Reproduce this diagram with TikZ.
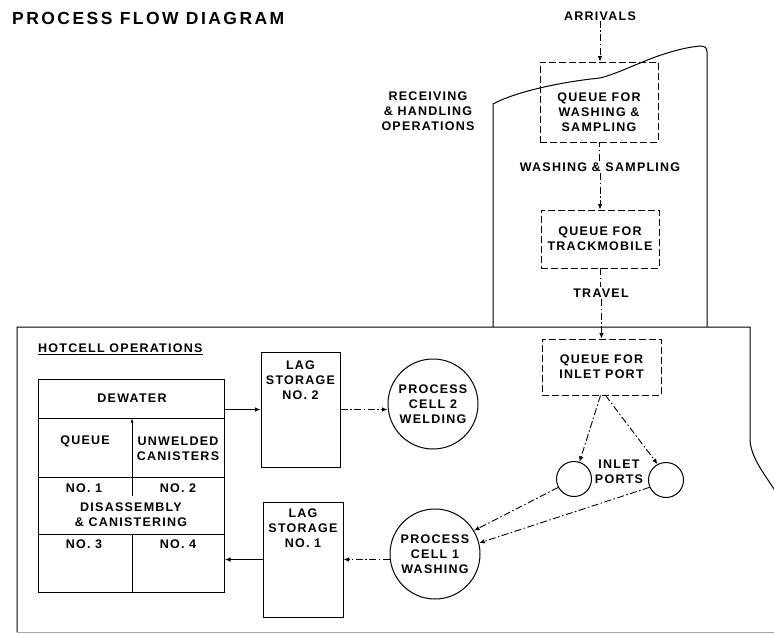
\documentclass[tikz,border=0pt]{standalone}
\usepackage{fontspec}
\setmainfont{Liberation Sans}[LetterSpace=10]
\newfontfamily\titlefont{Liberation Sans}[LetterSpace=14]
\usetikzlibrary{arrows.meta,calc}
\begin{document}
\begin{tikzpicture}[x=1pt,y=-1pt,
  every node/.style={font=\bfseries\fontsize{12.5}{15}\selectfont, inner sep=0pt, align=center},
  dbox/.style={draw, dash pattern=on 7pt off 3pt, line width=0.9pt},
  sbox/.style={draw, line width=1pt},
  cell/.style={draw, circle, line width=1pt, minimum size=90pt},
  port/.style={draw, circle, line width=1pt, minimum size=35pt},
  flow/.style={line width=0.9pt, dash pattern=on 7pt off 2.5pt on 1.5pt off 2.5pt, -{Latex[length=5.5pt,width=4.5pt]}},
  solidarrow/.style={line width=1pt, -{Latex[length=5.5pt,width=4.5pt]}},
  outline/.style={line width=1pt},
  gap/.style={fill=white, inner sep=1.5pt}]
\fill[white] (0,0) rectangle (774,634);
\useasboundingbox (0,0) rectangle (774,634);

% title
\node[font=\titlefont\bfseries\fontsize{17.5}{20}\selectfont, anchor=base west] (title) at (12,25) {PROCESS FLOW DIAGRAM};

% receiving outline
\draw[outline] (493,327) -- (493,104) .. controls (515,92) and (560,82) .. (600,78)
  .. controls (625,72) and (660,50) .. (700,46) .. controls (705,46) and (707,48) .. (707,52) -- (707,327);
% hotcell outline
\draw[outline] (776,492) .. controls (765,475) and (751,458) .. (750,440) -- (750,327) -- (17,327) -- (17,632);
\draw[black!35, line width=0.8pt] (17,632) -- (774,632);

% receiving nodes
\node (arr) at (600,16) {ARRIVALS};
\node (recv) at (428,111) {RECEIVING\\\& HANDLING\\OPERATIONS};
\node[dbox, minimum width=118pt, minimum height=80pt] (qw) at (599,102) {};
\node (qwt) at (599,112) {QUEUE FOR\\WASHING \&\\SAMPLING};
\node[gap] (ws) at (600,167) {WASHING \& SAMPLING};
\node[dbox, minimum width=118pt, minimum height=58pt] (qt) at (600,239) {QUEUE FOR\\TRACKMOBILE};
\node[gap] (tr) at (601,293) {TRAVEL};
\node[dbox, minimum width=119pt, minimum height=56pt] (qi) at (601.5,367) {QUEUE FOR\\INLET PORT};

\draw[flow] (arr.south) -- (arr.south |- qw.north);
\draw[flow, -] (ws.north -| qw.south) -- (qw.south);
\draw[flow] (ws.south -| qt.north) -- (qt.north);
\draw[flow, -] (qt.south) -- (tr.north -| qt.south);
\draw[flow] (tr.south -| qi.north) -- (qi.north);

% hotcell
\node[anchor=base west] (hc) at (38,352) {HOTCELL OPERATIONS};
\draw[line width=0.8pt] ([yshift=-2pt]hc.base west) -- ([yshift=-2pt]hc.base east);

\node[sbox, minimum width=186pt, minimum height=213pt] (big) at (131.5,486) {};
\draw[sbox] (big.west |- 0,418) -- (big.east |- 0,418);
\draw[sbox] (big.west |- 0,477) -- (big.east |- 0,477);
\draw[sbox] (big.west |- 0,534) -- (big.east |- 0,534);
\draw[line width=0.6pt, -{Latex[length=4pt,width=3pt]}] (132,477) -- (132,418.5);
\draw[line width=0.7pt] (132,477) -- (132,496);
\draw[line width=1pt] (132,534) -- (132,593);

\node (dew) at (132,398) {DEWATER};
\node (que) at (85,441) {QUEUE};
\node (unw) at (178,449) {UNWELDED\\CANISTERS};
\node (no1) at (84,488) {NO. 1};
\node (no2) at (178,488) {NO. 2};
\node (dis) at (131,515) {DISASSEMBLY\\\& CANISTERING};
\node (no3) at (84,544) {NO. 3};
\node (no4) at (178,544) {NO. 4};

\node[sbox, minimum width=79pt, minimum height=115pt] (lag2) at (300.5,409.5) {};
\node (lag2t) at (300.5,380) {LAG\\STORAGE\\NO. 2};
\node[sbox, minimum width=80pt, minimum height=115pt] (lag1) at (303,559.5) {};
\node (lag1t) at (303,528) {LAG\\STORAGE\\NO. 1};

\node[cell] (c2) at (433,404) {PROCESS\\CELL 2\\WELDING};
\node[cell] (c1) at (435,554) {PROCESS\\CELL 1\\WASHING};
\node[port] (lp) at (574,479) {};
\node[port] (rp) at (666,480) {};
\node (ip) at (619,471.5) {INLET\\PORTS};

\draw[solidarrow] (big.east |- lag2.west) -- (lag2.west);
\draw[flow] (lag2.east) -- (lag2.east -| c2.west);
\draw[flow] (lag1.east -| c1.west) -- (lag1.east);
\draw[solidarrow] (lag1.west) -- (lag1.west -| big.east);
\draw[flow] ([xshift=-1pt]qi.south) -- (lp.72);
\draw[flow] ([xshift=4pt]qi.south) -- (rp.118);
\draw[flow] (lp.208) -- (c1.31);
\draw[flow] (rp.204) -- (c1.14);
\end{tikzpicture}
\end{document}
